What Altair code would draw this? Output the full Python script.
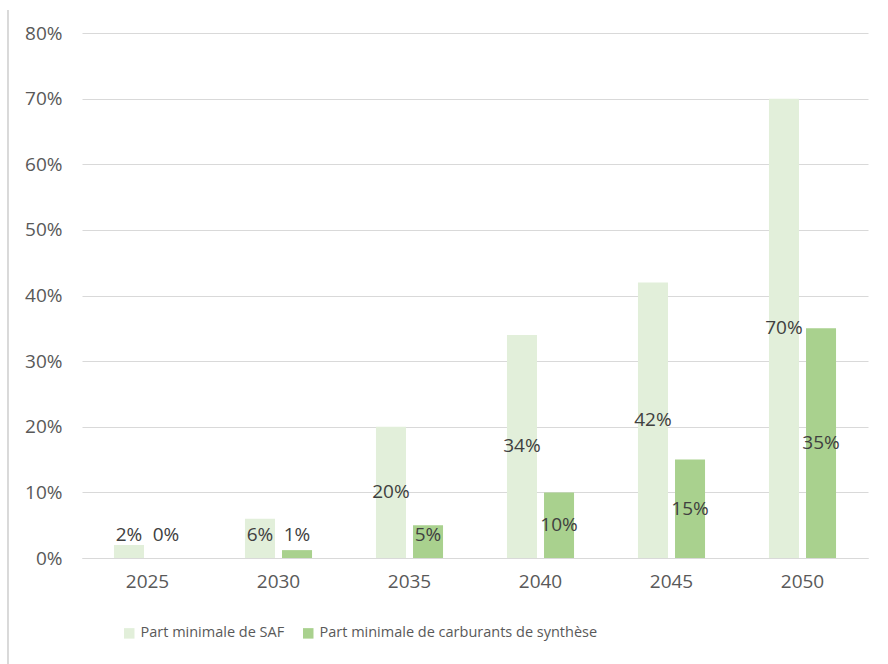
import altair as alt
import pandas as pd

years = ["2025", "2030", "2035", "2040", "2045", "2050"]
saf = [0.02, 0.06, 0.20, 0.34, 0.42, 0.70]
synth = [0.0, 0.012, 0.05, 0.10, 0.15, 0.35]
series = ["Part minimale de SAF", "Part minimale de carburants de synthèse"]
colors = ["#E2EFDA", "#A9D18E"]

rows = []
for i, y in enumerate(years):
    rows.append({"year": y, "series": series[0], "value": saf[i]})
    rows.append({"year": y, "series": series[1], "value": synth[i]})
df = pd.DataFrame(rows)

FONT = "Open Sans"

x = alt.X("year:N", title=None, sort=years,
          scale=alt.Scale(paddingInner=0.488, paddingOuter=0.244),
          axis=alt.Axis(labelAngle=0, ticks=False, grid=False, domainColor="#D9D9D9",
                        labelColor="#595959", labelFontSize=19, labelFont=FONT,
                        labelPadding=14))
xo = alt.XOffset("series:N", sort=series,
                 scale=alt.Scale(paddingInner=0.19, paddingOuter=0))

yaxis = alt.Axis(format=".0%", values=[0, .1, .2, .3, .4, .5, .6, .7, .8],
                 domain=False, ticks=False, gridColor="#D9D9D9",
                 labelColor="#595959", labelFontSize=19, labelFont=FONT,
                 labelPadding=20)

bars = alt.Chart(df).mark_bar().encode(
    x=x,
    xOffset=xo,
    y=alt.Y("value:Q", title=None, scale=alt.Scale(domain=[0, 0.8]), axis=yaxis),
    color=alt.Color("series:N", sort=series,
                    scale=alt.Scale(domain=series, range=colors),
                    legend=alt.Legend(title=None, orient="none", direction="horizontal",
                                      legendX=40, legendY=593, symbolType="square",
                                      symbolSize=110, symbolStrokeWidth=0,
                                      labelFontSize=14.5, labelFont=FONT, labelLimit=0,
                                      labelColor="#595959", columnPadding=16,
                                      labelOffset=4)),
)

labels = alt.Chart(df).transform_calculate(
    ly="max(datum.value / 2, 0.035)"
).mark_text(font=FONT, fontSize=19, color="#404040", baseline="middle").encode(
    x=x,
    xOffset=xo,
    y=alt.Y("ly:Q", title=None, scale=alt.Scale(domain=[0, 0.8]), axis=yaxis),
    text=alt.Text("value:Q", format=".0%"),
)

border = alt.Chart(df).mark_rule(color="#D9D9D9").encode(
    x=alt.value(-74), y=alt.value(-23), y2=alt.value(631)
)

chart = alt.layer(bars, labels, border).properties(
    width=786, height=525,
    background="white",
    autosize=alt.AutoSizeParams(type="none"),
    padding={"left": 82, "top": 33, "right": 20, "bottom": 106},
).configure_view(stroke=None, strokeWidth=0).configure_axisX(grid=False)

chart.save("out.html", embed_options={"renderer": "svg", "actions": False})
